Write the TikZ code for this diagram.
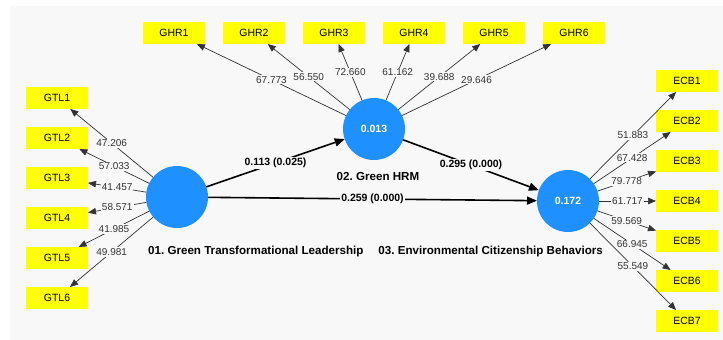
\documentclass[tikz,border=0pt]{standalone}
\usepackage{fontspec}
\setmainfont{Liberation Sans}
\usepackage{tikz}
\usetikzlibrary{positioning,arrows.meta}
\frenchspacing

\definecolor{canvas}{HTML}{F8F8F8}
\definecolor{latentblue}{HTML}{1E90FF}
\definecolor{itemyellow}{HTML}{FFFF00}
\definecolor{loadgray}{HTML}{333333}

\begin{document}
\begin{tikzpicture}[
                    x=1pt, y=-1pt,
                    every node/.style={fill=canvas, inner sep=1pt},
                    item/.style={rectangle, fill=itemyellow, minimum width=62pt, minimum height=22pt, outer sep=0pt, font=\fontsize{10.5}{12}\selectfont},
                    latent/.style={circle, fill=latentblue, minimum size=62pt, outer sep=0pt, text=white, font=\bfseries\fontsize{10.5}{12}\selectfont},
                    caption/.style={fill=none, font=\bfseries\fontsize{11.6}{13}\selectfont},
                    loading/.style={draw=loadgray, line width=0.7pt, -{Triangle[length=8pt,width=6.5pt]}},
                    coef/.style={draw=black, line width=1.6pt, -{Triangle[length=10pt,width=8pt]}},
                    loadlabel/.style={text=loadgray, font=\fontsize{10}{12}\selectfont},
                    coeflabel/.style={font=\bfseries\fontsize{10.5}{12}\selectfont},
                    node distance=40pt,
                ]
                \useasboundingbox (0,0) rectangle (723,340);
                \fill[canvas] (10,6) rectangle (723,340);

                % indicators of the three constructs
                \node[item] (gtl1) at (57,98) {GTL1};
                \node[item] (gtl2) [below of=gtl1] {GTL2};
                \node[item] (gtl3) [below of=gtl2] {GTL3};
                \node[item] (gtl4) [below of=gtl3] {GTL4};
                \node[item] (gtl5) [below of=gtl4] {GTL5};
                \node[item] (gtl6) [below of=gtl5] {GTL6};

                \node[item] (ghr1) at (174,33) {GHR1};
                \node[item] (ghr2) [right of=ghr1, xshift=40pt] {GHR2};
                \node[item] (ghr3) [right of=ghr2, xshift=40pt] {GHR3};
                \node[item] (ghr4) [right of=ghr3, xshift=40pt] {GHR4};
                \node[item] (ghr5) [right of=ghr4, xshift=40pt] {GHR5};
                \node[item] (ghr6) [right of=ghr5, xshift=40pt] {GHR6};

                \node[item] (ecb1) at (687,81) {ECB1};
                \node[item] (ecb2) [below of=ecb1] {ECB2};
                \node[item] (ecb3) [below of=ecb2] {ECB3};
                \node[item] (ecb4) [below of=ecb3] {ECB4};
                \node[item] (ecb5) [below of=ecb4] {ECB5};
                \node[item] (ecb6) [below of=ecb5] {ECB6};
                \node[item] (ecb7) [below of=ecb6] {ECB7};

                % constructs
                \node[latent] (gtl) at (177,197) {};
                \node[latent] (ghr) at (374,129) {0.013};
                \node[latent] (ecb) at (568,201) {0.172};

                \node[caption, anchor=west] (gtlname) at (147,251) {01. Green Transformational Leadership};
                \node[caption] (ghrname) at (378,177) {02. Green HRM};
                \node[caption, anchor=east] (ecbname) at (604,251) {03. Environmental Citizenship Behaviors};

                % outer loadings
                \draw[loading] (gtl) -- node[loadlabel] {47.206} (gtl1);
                \draw[loading] (gtl) -- node[loadlabel] {57.033} (gtl2);
                \draw[loading] (gtl) -- node[loadlabel] {41.457} (gtl3);
                \draw[loading] (gtl) -- node[loadlabel] {58.571} (gtl4);
                \draw[loading] (gtl) -- node[loadlabel] {41.985} (gtl5);
                \draw[loading] (gtl) -- node[loadlabel] {49.981} (gtl6);

                \draw[loading] (ghr) -- node[loadlabel] {67.773} (ghr1);
                \draw[loading] (ghr) -- node[loadlabel] {56.550} (ghr2);
                \draw[loading] (ghr) -- node[loadlabel] {72.660} (ghr3);
                \draw[loading] (ghr) -- node[loadlabel] {61.162} (ghr4);
                \draw[loading] (ghr) -- node[loadlabel] {39.688} (ghr5);
                \draw[loading] (ghr) -- node[loadlabel] {29.646} (ghr6);

                \draw[loading] (ecb) -- node[loadlabel] {51.883} (ecb1);
                \draw[loading] (ecb) -- node[loadlabel] {67.428} (ecb2);
                \draw[loading] (ecb) -- node[loadlabel] {79.778} (ecb3);
                \draw[loading] (ecb) -- node[loadlabel] {61.717} (ecb4);
                \draw[loading] (ecb) -- node[loadlabel] {59.569} (ecb5);
                \draw[loading] (ecb) -- node[loadlabel] {66.945} (ecb6);
                \draw[loading] (ecb) -- node[loadlabel] {55.549} (ecb7);

                % path coefficients (p values)
                \draw[coef] (gtl) -- node[coeflabel] {0.113 (0.025)} (ghr);
                \draw[coef] (ghr) -- node[coeflabel] {0.295 (0.000)} (ecb);
                \draw[coef] (gtl) -- node[coeflabel] {0.259 (0.000)} (ecb);
            \end{tikzpicture}
\end{document}
